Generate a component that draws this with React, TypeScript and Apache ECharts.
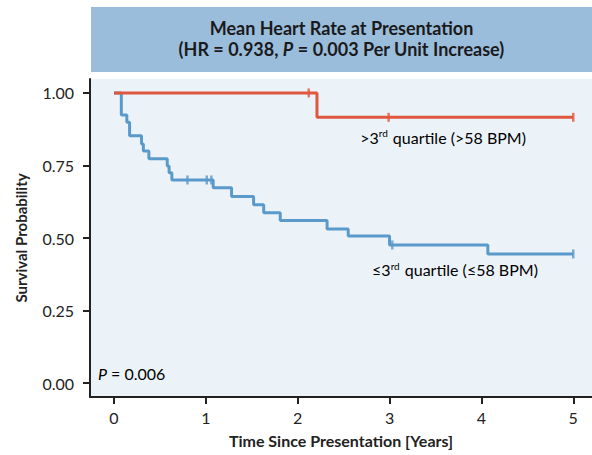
import React, { useEffect, useRef } from "react";
import * as echarts from "echarts";

const titleLine1 = "Mean Heart Rate at Presentation";
const xTicks = [0, 1, 2, 3, 4, 5];
const yTicks = [0, 0.25, 0.5, 0.75, 1.0];

// ≤3rd quartile (≤58 BPM)
const lowTimes = [0, 0.08, 0.14, 0.17, 0.30, 0.32, 0.38, 0.58, 0.60, 0.63, 1.08, 1.28, 1.52, 1.63, 1.81, 2.32, 2.55, 3.00, 4.07, 5.00];
const lowSurv = [1, 0.924, 0.899, 0.852, 0.824, 0.80, 0.773, 0.748, 0.725, 0.70, 0.673, 0.643, 0.615, 0.587, 0.56, 0.531, 0.507, 0.476, 0.445, 0.445];
const lowCensorTimes = [0.80, 1.01, 1.06, 3.03, 5.00];
const lowCensorSurv = [0.70, 0.70, 0.70, 0.476, 0.445];

// >3rd quartile (>58 BPM)
const highTimes = [0, 2.21, 5.00];
const highSurv = [1, 0.916, 0.916];
const highCensorTimes = [2.12, 2.99, 5.00];
const highCensorSurv = [1, 0.916, 0.916];

const RED = "#E0573F";
const BLUE = "#5A9ACB";
const FONT = "Lato";

const zip = (a: number[], b: number[]) => a.map((v, i) => [v, b[i]]);

export default function App() {
  const ref = useRef<HTMLDivElement>(null);
  useEffect(() => {
    if (!ref.current) return;
    const chart = echarts.init(ref.current, undefined, { renderer: "svg" });
    chart.setOption({
      animation: false,
      textStyle: { fontFamily: FONT },
      grid: {
        left: 90, top: 79, right: 0, bottom: 58,
        show: true, backgroundColor: "#ECF3F8", borderWidth: 0,
      },
      xAxis: {
        type: "value", min: -0.261, max: 5.204,
        splitLine: { show: false },
        axisLine: { show: true, onZero: false, lineStyle: { color: "#222", width: 2 } },
        axisTick: { show: true, customValues: xTicks, length: 7, lineStyle: { color: "#222", width: 2 } },
        axisLabel: { customValues: xTicks, color: "#222", fontSize: 16, margin: 12, fontFamily: FONT },
        name: "Time Since Presentation [Years]", nameLocation: "middle", nameGap: 35,
        nameTextStyle: { fontWeight: "bold", fontSize: 16, color: "#222", fontFamily: FONT },
      },
      yAxis: {
        type: "value", min: -0.048, max: 1.048,
        splitLine: { show: false },
        axisLine: { show: true, onZero: false, lineStyle: { color: "#222", width: 2 } },
        axisTick: { show: true, customValues: yTicks, length: 7, lineStyle: { color: "#222", width: 2 } },
        axisLabel: { customValues: yTicks, color: "#222", fontSize: 16, margin: 16, fontFamily: FONT,
          formatter: (v: number) => v.toFixed(2) },
        name: "Survival Probability", nameLocation: "middle", nameGap: 62,
        nameTextStyle: { fontWeight: "bold", fontSize: 15, color: "#222", fontFamily: FONT },
      },
      series: [
        { type: "line", step: "end", data: zip(lowTimes, lowSurv), showSymbol: false,
          lineStyle: { color: BLUE, width: 3 }, z: 2 },
        { type: "line", step: "end", data: zip(highTimes, highSurv), showSymbol: false,
          lineStyle: { color: RED, width: 3 }, z: 3 },
        { type: "scatter", data: zip(lowCensorTimes, lowCensorSurv), symbol: "rect", symbolSize: [2.5, 9],
          itemStyle: { color: BLUE }, z: 4 },
        { type: "scatter", data: zip(highCensorTimes, highCensorSurv), symbol: "rect", symbolSize: [2.5, 9],
          itemStyle: { color: RED }, z: 4 },
      ],
    });

    const p1 = chart.convertToPixel({ gridIndex: 0 }, [2.68, 0.848]);
    const p2 = chart.convertToPixel({ gridIndex: 0 }, [2.81, 0.39]);
    const p3 = chart.convertToPixel({ gridIndex: 0 }, [-0.174, 0.007]);
    const lbl = { fontFamily: FONT, fontSize: 16, color: "#222" };
    const sup = { fontFamily: FONT, fontSize: 10, color: "#222", padding: [0, 1, 8, 0] };
    chart.setOption({
      graphic: [
        { type: "rect", shape: { x: 91, y: 7, width: 520, height: 65 }, style: { fill: "#9BBDDC" }, silent: true },
        { type: "text", x: 341.5, y: 28, style: { text: titleLine1, fontFamily: FONT, fontWeight: "bold", fontSize: 18,
          fill: "#1a1a1a", align: "center", verticalAlign: "middle" } },
        { type: "text", x: 341.5, y: 49, style: {
          text: "{b|(HR = 0.938, }{i|P}{b| = 0.003 Per Unit Increase)}", align: "center", verticalAlign: "middle",
          rich: {
            b: { fontFamily: FONT, fontWeight: "bold", fontSize: 18, fill: "#1a1a1a" },
            i: { fontFamily: FONT, fontWeight: "bold", fontStyle: "italic", fontSize: 18, fill: "#1a1a1a" },
          } } },
        { type: "text", x: p1[0], y: p1[1], style: { text: "{n|>3}{s|rd}{n| quartile (>58 BPM)}", verticalAlign: "middle",
          rich: { n: lbl, s: sup } } },
        { type: "text", x: p2[0], y: p2[1], style: { text: "{n|≤3}{s|rd}{n| quartile (≤58 BPM)}", verticalAlign: "middle",
          rich: { n: lbl, s: sup } } },
        { type: "text", x: p3[0], y: p3[1], style: { text: "{i|P}{n| = 0.006}", verticalAlign: "bottom",
          rich: { n: lbl, i: { ...lbl, fontStyle: "italic" } } } },
      ],
    });
    return () => chart.dispose();
  }, []);
  return <div ref={ref} style={{ width: 592, height: 455, position: "absolute", left: 0, top: 0 }} />;
}
